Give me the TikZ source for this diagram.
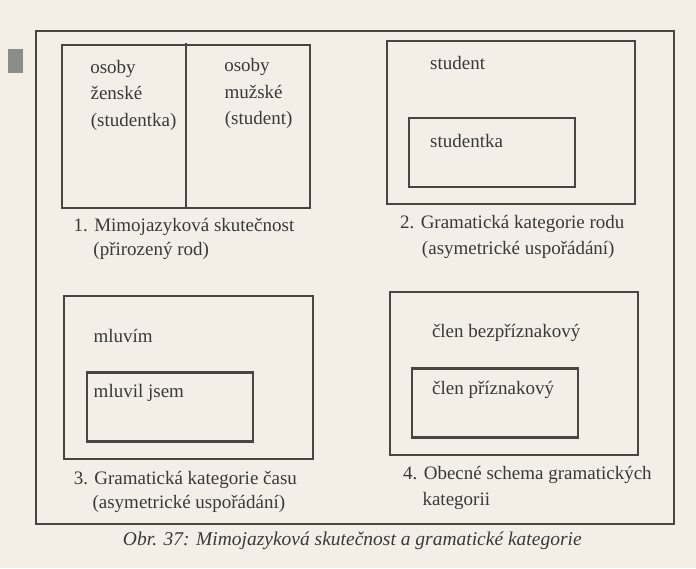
\documentclass[tikz,border=0pt]{standalone}
\usepackage{fontspec}
\setmainfont{Liberation Serif}
\definecolor{paper}{HTML}{F3EFE6}
\definecolor{ink}{HTML}{48463F}
\definecolor{txt}{HTML}{3A3935}
\tikzset{
  frame/.style={draw=ink, line width=2.2pt, inner sep=0pt, anchor=north west},
  lbl/.style={anchor=base west, inner sep=0pt, text=txt, font=\fontsize{19}{24}\selectfont},
  figcap/.style={anchor=base, inner sep=0pt, text=txt, font=\fontsize{19.5}{24}\selectfont\itshape}
}
\begin{document}
\begin{tikzpicture}[x=1pt,y=-1pt]
\useasboundingbox (0,0) rectangle (696,568);
\fill[paper] (0,0) rectangle (696,568);
\fill[black!45] (8,49) rectangle (23,73);
\begin{scope}[rotate around={0.7:(357,272)}]
% outer frame
\node[frame, minimum width=638.5pt, minimum height=493pt] (outer) at (37.5,26) {};
% box 1
\node[frame, minimum width=248.5pt, minimum height=163pt] (b1) at (63.3,40.5) {};
\draw[draw=ink, line width=2.2pt] ([xshift=125.8pt]b1.north west) -- ([xshift=125.8pt]b1.south west);
\node[lbl] (b1a) at (92.5,70) {osoby};
\node[lbl] (b1b) at (92.5,96.5) {ženské};
\node[lbl] (b1c) at (92.5,123) {(studentka)};
\node[lbl] (b1d) at (226.5,70) {osoby};
\node[lbl] (b1e) at (226.5,96.5) {mužské};
\node[lbl] (b1f) at (226.5,123) {(student)};
\node[lbl] (c1a) at (74,228) {1. Mimojazyková skutečnost};
\node[lbl] (c1b) at (93.5,252) {(přirozený rod)};
% box 2
\node[frame, minimum width=248.5pt, minimum height=163pt] (b2) at (388.5,40.5) {};
\node[frame, minimum width=166pt, minimum height=69pt] (b2i) at (410,117.5) {};
\node[lbl] (b2a) at (432.5,70) {student};
\node[lbl] (b2b) at (431.5,148.5) {studentka};
\node[lbl] (c2a) at (400.5,229) {2. Gramatická kategorie rodu};
\node[lbl] (c2b) at (422,255) {(asymetrické uspořádání)};
% box 3
\node[frame, minimum width=248.5pt, minimum height=163pt] (b3) at (63,291) {};
\node[frame, minimum width=166pt, minimum height=69pt] (b3i) at (84.5,368) {};
\node[lbl] (b3a) at (92.5,339.5) {mluvím};
\node[lbl] (b3b) at (92,394.5) {mluvil jsem};
\node[lbl] (c3a) at (71,481) {3. Gramatická kategorie času};
\node[lbl] (c3b) at (89.5,505) {(asymetrické uspořádání)};
% box 4
\node[frame, minimum width=248.5pt, minimum height=163pt] (b4) at (388.5,291) {};
\node[frame, minimum width=166pt, minimum height=69pt] (b4i) at (410,368) {};
\node[lbl] (b4a) at (431,338.5) {člen bezpříznakový};
\node[lbl] (b4b) at (430.5,395) {člen příznakový};
\node[lbl] (c4a) at (400.5,480) {4. Obecné schema gramatických};
\node[lbl] (c4b) at (419.5,506.5) {kategorii};
% figure caption
\node[figcap] (cap) at (349,545) {Obr. 37: Mimojazyková skutečnost a gramatické kategorie};
\end{scope}
\end{tikzpicture}
\end{document}
